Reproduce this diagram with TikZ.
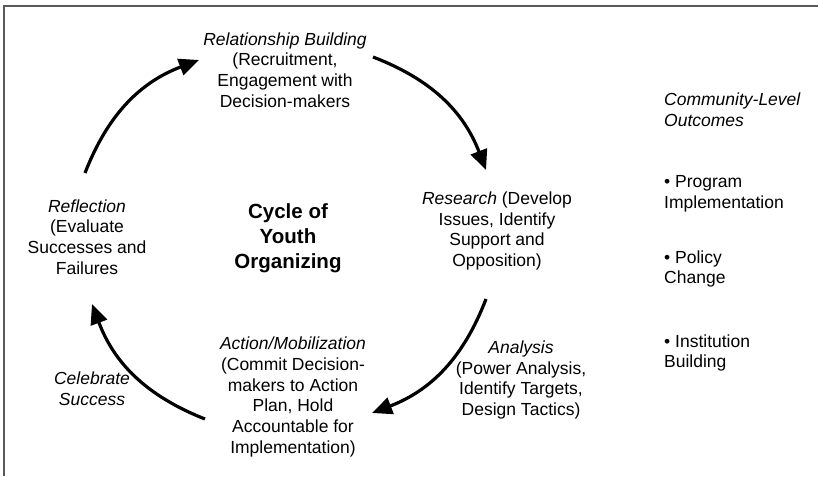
\documentclass[tikz,border=0pt]{standalone}
\usepackage{fontspec}
\setmainfont{Liberation Sans}
\usetikzlibrary{arrows.meta}
\begin{document}
\begin{tikzpicture}[x=1pt,y=-1pt,
  lbl/.style={align=center,inner sep=0pt,font=\fontsize{17.5}{20.7}\selectfont},
  outc/.style={align=left,inner sep=0pt,anchor=west,font=\fontsize{17.5}{20.7}\selectfont},
  title/.style={align=center,inner sep=0pt,font=\bfseries\fontsize{20.5}{25}\selectfont},
  cyc/.style={line width=3.2pt,-{Triangle[length=20pt,width=17pt]},bend left=24},
  frame/.style={draw=black!65,line width=2pt}]
\useasboundingbox (0,0) rectangle (818,476);
\fill[white] (0,0) rectangle (818,476);
\draw[frame] (4,476) -- (4,6) -- (818,6);

\node[lbl] (rel) at (285,70) {\textit{Relationship Building}\\(Recruitment,\\Engagement with\\Decision-makers};
\node[lbl] (res) at (497,231) {\textit{Research} (Develop\\Issues, Identify\\Support and\\Opposition)};
\node[lbl] (ana) at (521,380) {\textit{Analysis}\\(Power Analysis,\\Identify Targets,\\Design Tactics)};
\node[lbl] (act) at (293,397) {\textit{Action/Mobilization}\\(Commit Decision-\\makers to Action\\Plan, Hold\\Accountable for\\Implementation)};
\node[lbl] (cel) at (92,389) {\textit{Celebrate}\\\textit{Success}};
\node[lbl] (ref) at (87,237) {\textit{Reflection}\\(Evaluate\\Successes and\\Failures};
\node[title] (cyc) at (288,238) {Cycle of\\Youth\\Organizing};

\node[outc] (com) at (664,110) {\textit{Community-Level}\\\textit{Outcomes}};
\node[outc] (o1) at (664,194) {\textbullet\ Program\\Implementation};
\node[outc] (o2) at (664,269) {\textbullet\ Policy\\Change};
\node[outc] (o3) at (664,353) {\textbullet\ Institution\\Building};

\coordinate (a1s) at (85,173);
\coordinate (a1e) at (199,60);
\coordinate (a2s) at (373,57);
\coordinate (a2e) at (486,170);
\coordinate (a3s) at (486,299);
\coordinate (a3e) at (372,413);
\coordinate (a4s) at (205,419);
\coordinate (a4e) at (92,304);

\draw[cyc] (a1s) to (a1e);
\draw[cyc] (a2s) to (a2e);
\draw[cyc] (a3s) to (a3e);
\draw[cyc] (a4s) to (a4e);
\end{tikzpicture}
\end{document}
